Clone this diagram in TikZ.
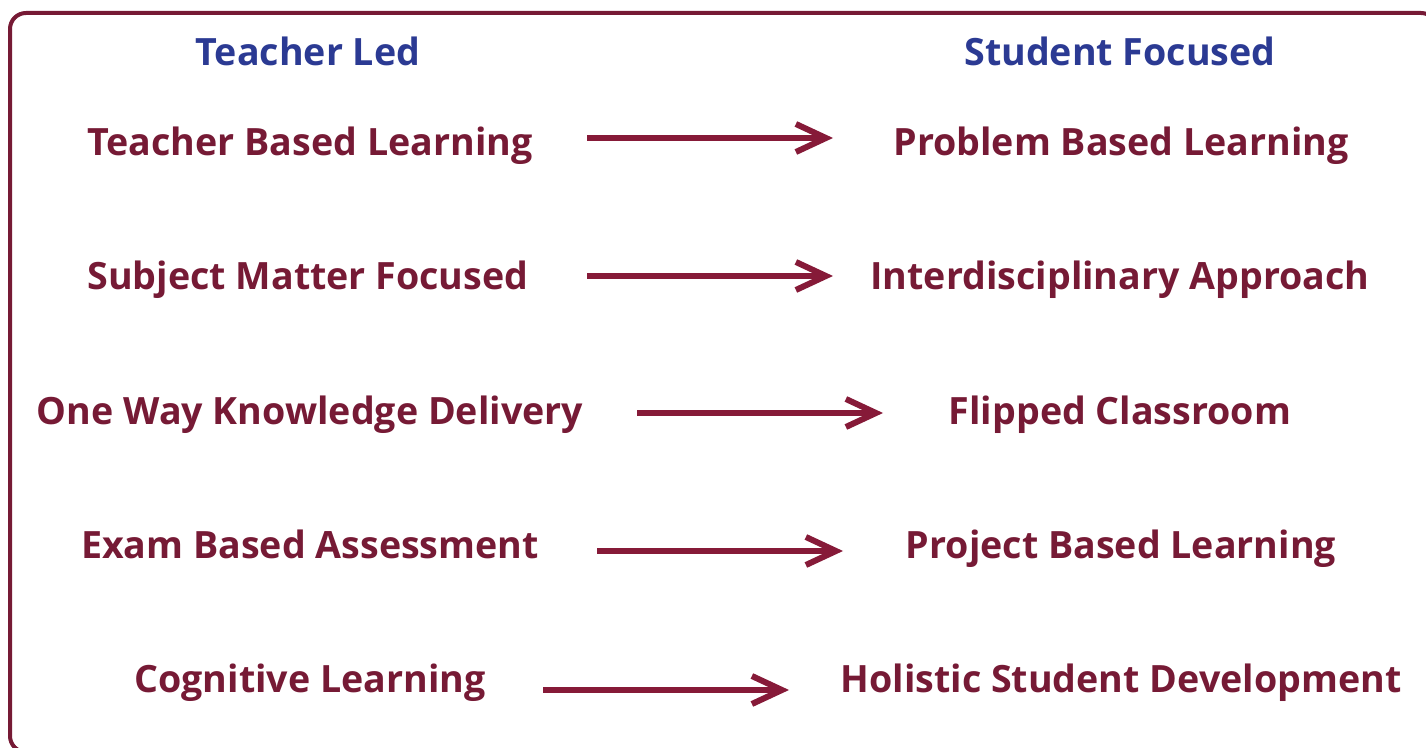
\documentclass[tikz,border=0pt]{standalone}
\usepackage{fontspec}
\setmainfont{Open Sans}
\usetikzlibrary{arrows.meta}
\definecolor{wine}{HTML}{761A35}
\definecolor{arrowwine}{HTML}{861A38}
\definecolor{navy}{HTML}{2B3A93}
\tikzset{
    item/.style={anchor=base, text=wine, font=\fontsize{18.8}{22}\selectfont\bfseries},
    head/.style={anchor=base, text=navy, font=\fontsize{18.8}{22}\selectfont\bfseries},
    moveto/.style={draw=arrowwine, line width=3pt, -{Straight Barb[length=15pt, width=14pt, line width=3pt]}}
}
\begin{document}
\begin{tikzpicture}[x=0.5pt, y=-0.5pt]
        \useasboundingbox (0,0) rectangle (1426,748);
        \clip (0,0) rectangle (1426,748);
        \draw[draw=wine, line width=2pt, rounded corners=8pt] (10,13) rectangle (1437,752);

        \node[head] (led) at (308,66) {Teacher Led};
        \node[head] (focused) at (1120,66) {Student Focused};

        \node[item] (teacher) at (310,156) {Teacher Based Learning};
        \node[item] (problem) at (1121,156) {Problem Based Learning};
        \node[item] (subject) at (308,290) {Subject Matter Focused};
        \node[item] (inter) at (1120,290) {Interdisciplinary Approach};
        \node[item] (oneway) at (310,425) {One Way Knowledge Delivery};
        \node[item] (flipped) at (1120,425) {Flipped Classroom};
        \node[item] (exam) at (310,559) {Exam Based Assessment};
        \node[item] (project) at (1121,559) {Project Based Learning};
        \node[item] (cognitive) at (310,693) {Cognitive Learning};
        \node[item] (holistic) at (1121,693) {Holistic Student Development};

        \coordinate (s1) at (587,138);
        \coordinate (e1) at (833,138);
        \coordinate (s2) at (587,276);
        \coordinate (e2) at (833,276);
        \coordinate (s3) at (637,413);
        \coordinate (e3) at (883,413);
        \coordinate (s4) at (597,551);
        \coordinate (e4) at (843,551);
        \coordinate (s5) at (543,690);
        \coordinate (e5) at (789,690);

        \draw[moveto] (s1) -- (e1);
        \draw[moveto] (s2) -- (e2);
        \draw[moveto] (s3) -- (e3);
        \draw[moveto] (s4) -- (e4);
        \draw[moveto] (s5) -- (e5);
    \end{tikzpicture}
\end{document}
